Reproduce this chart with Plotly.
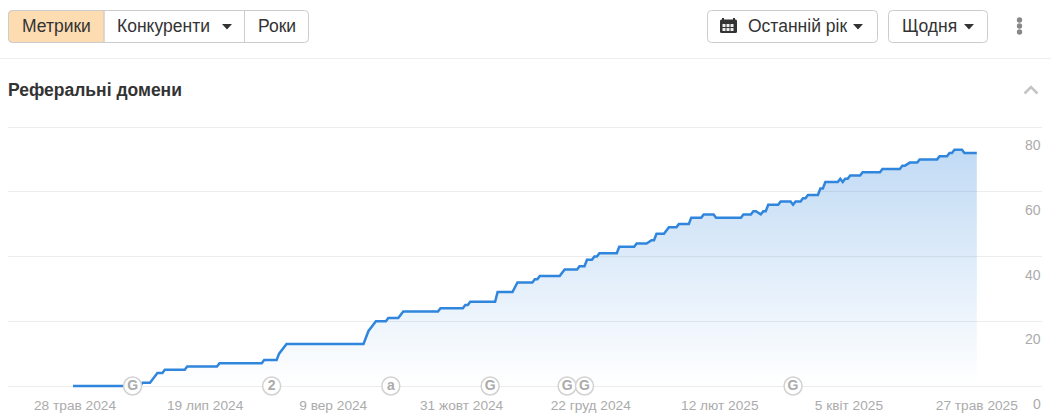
import pandas as pd
import plotly.graph_objects as go

W, H = 1051, 419
L, R, T, B = 8, 1042, 125, 388  # plot box in page pixels
PX_PER_UNIT = 259 / 80

start_date = pd.Timestamp("2024-05-28")
days = [0, 27, 28, 31, 34, 36, 37, 45, 46, 58, 59, 76, 77, 82, 83, 86, 117, 119, 122, 126, 127,
        131, 133, 147, 148, 157, 158, 159, 160, 170, 171, 177, 179, 185, 186, 187, 188, 196, 198,
        203, 204, 206, 207, 209, 210, 211, 212, 219, 220, 226, 227, 231, 233, 234, 235, 238, 240,
        243, 244, 248, 249, 253, 254, 258, 259, 269, 270, 273, 274, 275, 277, 278, 279, 280, 284,
        285, 289, 290, 291, 293, 294, 295, 296, 300, 301, 302, 303, 308, 309, 310, 311, 312, 313,
        317, 318, 325, 326, 333, 334, 335, 337, 340, 341, 348, 349, 352, 353, 354, 355, 358, 359, 364]
values = [0, 0, 1, 1, 4, 4, 5, 5, 6, 6, 7, 7, 8, 8, 10, 13, 13, 17, 20, 20, 21,
          21, 23, 23, 24, 24, 25, 25, 26, 26, 29, 29, 32, 32, 33, 33, 34, 34, 36,
          36, 37, 37, 39, 39, 40, 40, 41, 41, 43, 43, 44, 44, 45, 45, 47, 47, 49,
          49, 50, 50, 52, 52, 53, 53, 52, 52, 53, 53, 54, 54, 53, 54, 54, 56, 56,
          57, 57, 56, 57, 57, 58, 58, 59, 59, 61, 61, 63, 63, 64, 63, 64, 64, 65,
          65, 66, 66, 67, 67, 68, 68, 69, 69, 70, 70, 71, 71, 72, 72, 73, 73, 72, 72]

tick_days = [0.8, 53.2, 104.8, 156.5, 208.5, 260.5, 312.5, 364]
tick_labels = ["28 трав 2024", "19 лип 2024", "9 вер 2024", "31 жовт 2024",
               "22 груд 2024", "12 лют 2025", "5 квіт 2025", "27 трав 2025"]
y_ticks = [0, 20, 40, 60, 80]

event_days = [24, 80, 128, 168, 199, 206, 290]
event_labels = ["G", "2", "a", "G", "G", "G", "G"]

PX_PER_DAY = 2.483
X0 = 73


def d(n):
    return start_date + pd.to_timedelta(n, unit="D")


def px(x):
    return (x - L) / (R - L)


def py(y):
    return 1 - (y - T) / (B - T)


def rrect(x0, y0, x1, y1, r=4):
    a, b, c, e = px(x0), py(y0), px(x1), py(y1)
    rx, ry = r / (R - L), r / (B - T)
    return (f"M{a + rx},{b} L{c - rx},{b} Q{c},{b} {c},{b - ry} L{c},{e + ry} Q{c},{e} {c - rx},{e} "
            f"L{a + rx},{e} Q{a},{e} {a},{e + ry} L{a},{b - ry} Q{a},{b} {a + rx},{b} Z")


def lrect(x0, y0, x1, y1, r=4):
    a, b, c, e = px(x0), py(y0), px(x1), py(y1)
    rx, ry = r / (R - L), r / (B - T)
    return f"M{a + rx},{b} L{c},{b} L{c},{e} L{a + rx},{e} Q{a},{e} {a},{e + ry} L{a},{b - ry} Q{a},{b} {a + rx},{b} Z"


def poly(pts, close=True):
    s = "M" + " L".join(f"{px(x)},{py(y)}" for x, y in pts)
    return s + (" Z" if close else "")


shapes = []


def add(path, fill="rgba(0,0,0,0)", line="rgba(0,0,0,0)", width=1):
    shapes.append(dict(type="path", path=path, xref="paper", yref="paper", fillcolor=fill,
                       line=dict(color=line, width=width), layer="above"))


BORDER = "#cccccc"
add(poly([(0, 58.5), (W, 58.5)], False), line="#eeeeee", width=1)
add(lrect(8.5, 10.5, 104, 42.5), fill="#fedcb2", line="#ead2b0")
add(rrect(8.5, 10.5, 308.5, 42.5), line=BORDER)
add(poly([(104, 10.5), (104, 42.5)], False), line=BORDER)
add(poly([(244.5, 10.5), (244.5, 42.5)], False), line=BORDER)
add(rrect(707.5, 10.5, 877.5, 42.5), line=BORDER)
add(rrect(888.5, 10.5, 987.5, 42.5), line=BORDER)
for cx in (227, 858, 969):
    add(poly([(cx - 5, 24), (cx + 5, 24), (cx, 29.5)]), fill="#333333")
for cy in (20, 26, 32):
    add(f"M{px(1016.8)},{py(cy)} Q{px(1016.8)},{py(cy + 2.7)} {px(1019.5)},{py(cy + 2.7)} "
        f"Q{px(1022.2)},{py(cy + 2.7)} {px(1022.2)},{py(cy)} Q{px(1022.2)},{py(cy - 2.7)} {px(1019.5)},{py(cy - 2.7)} "
        f"Q{px(1016.8)},{py(cy - 2.7)} {px(1016.8)},{py(cy)} Z", fill="#888888")
add(poly([(1024.5, 93.5), (1031, 87), (1037.5, 93.5)], False), line="#c4c4c4", width=2.5)
# calendar icon
add(rrect(720, 19.5, 737, 33, 1.5), fill="#333333")
add(poly([(723, 18), (723, 21)], False), line="#333333", width=2)
add(poly([(734, 18), (734, 21)], False), line="#333333", width=2)
for gy in (24, 28):
    for gx in (722.5, 726.5, 730.5):
        add(poly([(gx, gy), (gx + 3, gy), (gx + 3, gy + 3), (gx, gy + 3)]), fill="#eeeeee")

annotations = []


def label(x, y, text, size=17.5, color="#333333", bold=False, anchor="center"):
    annotations.append(dict(xref="paper", yref="paper", x=px(x), y=py(y), text=f"<b>{text}</b>" if bold else text,
                            showarrow=False, xanchor=anchor, yanchor="middle", borderpad=0, borderwidth=0,
                            font=dict(size=size, color=color, family="Liberation Sans")))


label(56.5, 26, "Метрики")
label(117, 26, "Конкуренти", anchor="left")
label(276.5, 26, "Роки")
label(748, 26, "Останній рік", anchor="left")
label(902, 26, "Щодня", anchor="left")
label(8, 90, "Реферальні домени", size=17.5, color="#333333", bold=True, anchor="left")

for v in y_ticks:
    annotations.append(dict(xref="paper", yref="y", x=1, y=v, yshift=-18, text=str(v), showarrow=False,
                            xanchor="right", yanchor="middle", borderpad=0,
                            font=dict(size=14, color="#ababab", family="Liberation Sans")))

x_vals = [d(n) for n in days]
fig = go.Figure()
fig.add_trace(go.Scatter(
    x=x_vals, y=values, mode="lines", cliponaxis=False, hoverinfo="skip",
    line=dict(color="#3085dc", width=2.5),
    fill="tozeroy",
    fillgradient=dict(type="vertical",
                      colorscale=[[0, "rgba(48,133,220,0)"], [1, "rgba(48,133,220,0.3)"]]),
))
fig.add_trace(go.Scatter(
    x=[d(n) for n in event_days], y=[0] * len(event_days), mode="markers+text",
    text=event_labels, textposition="middle center", cliponaxis=False, hoverinfo="skip",
    textfont=dict(size=14, color="#ababab", family="Liberation Sans", weight="bold"),
    marker=dict(size=18, color="#ffffff", line=dict(color="#d2d2d2", width=1.5)),
))

fig.update_layout(
    width=W, height=H, autosize=False, showlegend=False,
    margin=dict(l=L, r=W - R, t=T, b=H - B, pad=0),
    paper_bgcolor="#ffffff", plot_bgcolor="#ffffff",
    shapes=shapes, annotations=annotations,
    xaxis=dict(range=[d((L - X0) / PX_PER_DAY), d((R - X0) / PX_PER_DAY)], type="date",
               tickmode="array", tickvals=[d(n) for n in tick_days], ticktext=tick_labels,
               showgrid=False, zeroline=False, showline=False, ticks="outside", ticklen=5,
               tickcolor="rgba(0,0,0,0)", tickangle=0, automargin=False,
               tickfont=dict(size=13.7, color="#ababab", family="Liberation Sans")),
    yaxis=dict(range=[-2 / PX_PER_UNIT, 80 + 2 / PX_PER_UNIT], tickmode="array", tickvals=y_ticks,
               showticklabels=False, automargin=False,
               showgrid=True, gridcolor="#ececec", gridwidth=1, zeroline=False,
               showline=False, ticks=""),
)
fig.write_html("out.html", config=dict(displayModeBar=False),
               post_script="document.body.style.margin='0';")
